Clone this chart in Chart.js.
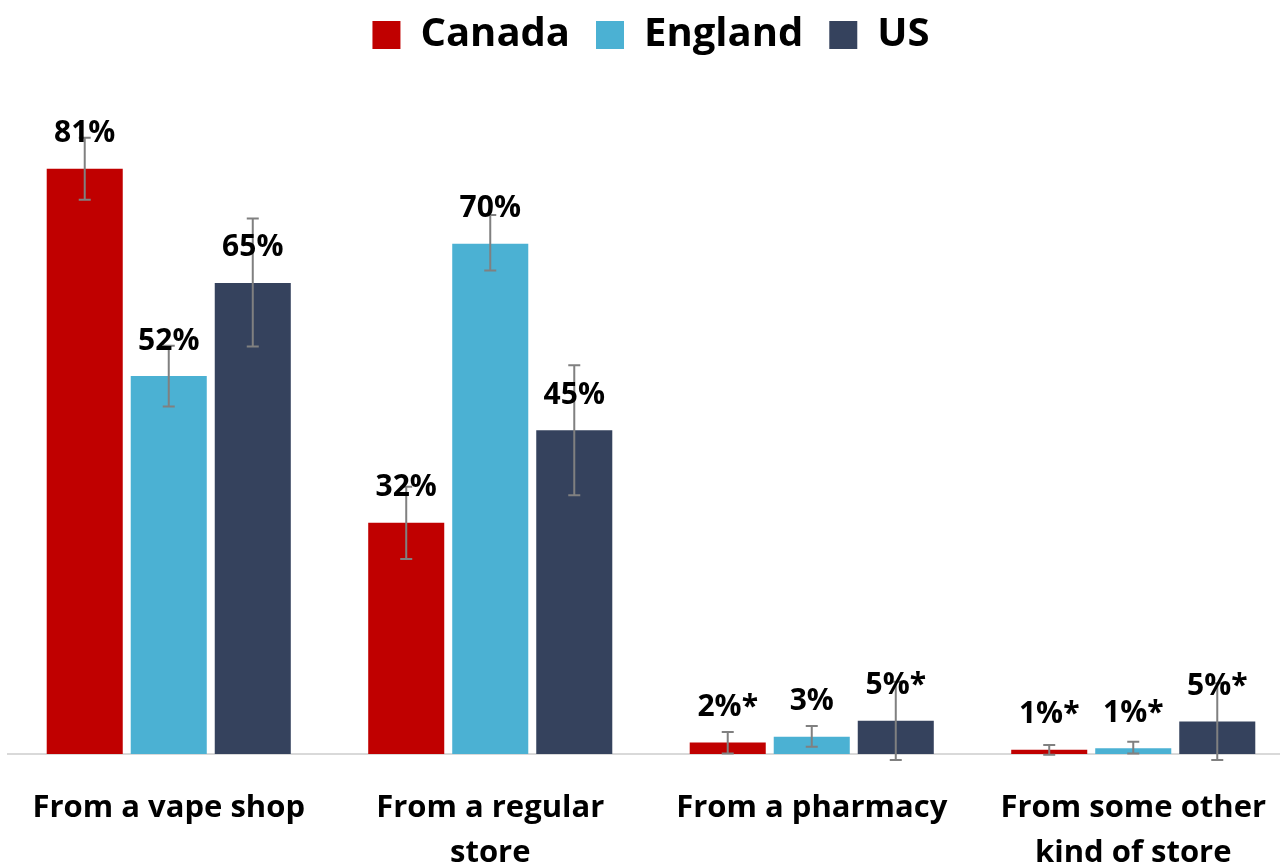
<!DOCTYPE html>
<html>
<head>
<meta charset="utf-8">
<script src="https://cdn.jsdelivr.net/npm/chart.js@4"></script>
<style>
  body { margin: 0; overflow: hidden; background: #fff; }
  #wrap { width: 1294px; height: 867px; }
</style>
</head>
<body>
<div id="wrap"><canvas id="grafico"></canvas></div>
<script>
// categorias e valores
const categorias = [["From a vape shop"], ["From a regular", "store"], ["From a pharmacy"], ["From some other", "kind of store"]];

const canada = [81, 32, 1.6, 0.6];
const england = [52.3, 70.6, 2.4, 0.8];
const us = [65.2, 44.8, 4.6, 4.5];

const canadaRotulos = ["81%", "32%", "2%*", "1%*"];
const englandRotulos = ["52%", "70%", "3%", "1%*"];
const usRotulos = ["65%", "45%", "5%*", "5%*"];

// intervalos (barras de erro)
const canadaMin = [76.7, 27.0, 0.1, -0.1];
const canadaMax = [85.3, 37.0, 3.05, 1.25];
const englandMin = [48.1, 66.9, 1.0, 0.1];
const englandMax = [56.5, 74.6, 3.9, 1.7];
const usMin = [56.4, 35.8, -0.8, -0.8];
const usMax = [74.1, 53.8, 10.0, 9.8];

const fonte = "'Open Sans', 'DejaVu Sans', sans-serif";

// plugin simples: barras de erro + rótulos em cima das barras
const errosERotulos = {
    id: 'errosERotulos',
    afterDatasetsDraw(chart) {
        const ctx = chart.ctx;
        const y = chart.scales.y;
        chart.data.datasets.forEach((ds, d) => {
            const meta = chart.getDatasetMeta(d);
            meta.data.forEach((barra, i) => {
                let yAlto = y.getPixelForValue(ds.erroMax[i]);
                let yBaixo = y.getPixelForValue(ds.erroMin[i]);
                ctx.save();
                ctx.strokeStyle = '#808080';
                ctx.lineWidth = 2;
                ctx.beginPath();
                ctx.moveTo(barra.x, yAlto);
                ctx.lineTo(barra.x, yBaixo);
                ctx.moveTo(barra.x - 6, yAlto);
                ctx.lineTo(barra.x + 6, yAlto);
                ctx.moveTo(barra.x - 6, yBaixo);
                ctx.lineTo(barra.x + 6, yBaixo);
                ctx.stroke();
                ctx.restore();
            });
        });
        chart.data.datasets.forEach((ds, d) => {
            const meta = chart.getDatasetMeta(d);
            meta.data.forEach((barra, i) => {
                ctx.save();
                ctx.font = "bold 30px " + fonte;
                ctx.fillStyle = '#000';
                ctx.textAlign = 'center';
                ctx.textBaseline = 'middle';
                ctx.fillText(ds.rotulos[i], barra.x, barra.y - 35);
                ctx.restore();
            });
        });
    }
};

let ctx = document.querySelector('#grafico');

new Chart(ctx, {
    type: 'bar',
    data: {
        labels: categorias,
        datasets: [
            { label: 'Canada', data: canada, backgroundColor: '#C00000', rotulos: canadaRotulos, erroMin: canadaMin, erroMax: canadaMax },
            { label: 'England', data: england, backgroundColor: '#4BB1D3', rotulos: englandRotulos, erroMin: englandMin, erroMax: englandMax },
            { label: 'US', data: us, backgroundColor: '#35425D', rotulos: usRotulos, erroMin: usMin, erroMax: usMax }
        ]
    },
    options: {
        responsive: true,
        maintainAspectRatio: false,
        animation: false,
        categoryPercentage: 0.784,
        barPercentage: 0.905,
        layout: { padding: { left: 8, right: 0, top: -11, bottom: -33 } },
        plugins: {
            legend: {
                position: 'top',
                labels: {
                    boxWidth: 28,
                    boxHeight: 28,
                    padding: 26,
                    color: '#000',
                    font: { family: fonte, size: 40, weight: 'bold' }
                }
            },
            tooltip: { enabled: false }
        },
        scales: {
            x: {
                grid: { display: false },
                border: { display: true, color: '#D9D9D9', width: 2 },
                ticks: {
                    color: '#000',
                    padding: 24,
                    maxRotation: 0,
                    autoSkip: false,
                    font: { family: fonte, size: 31, weight: 'bold', lineHeight: 1.45 }
                }
            },
            y: {
                display: false,
                min: 0,
                max: 95.35
            }
        }
    },
    plugins: [errosERotulos]
});
</script>
</body>
</html>
